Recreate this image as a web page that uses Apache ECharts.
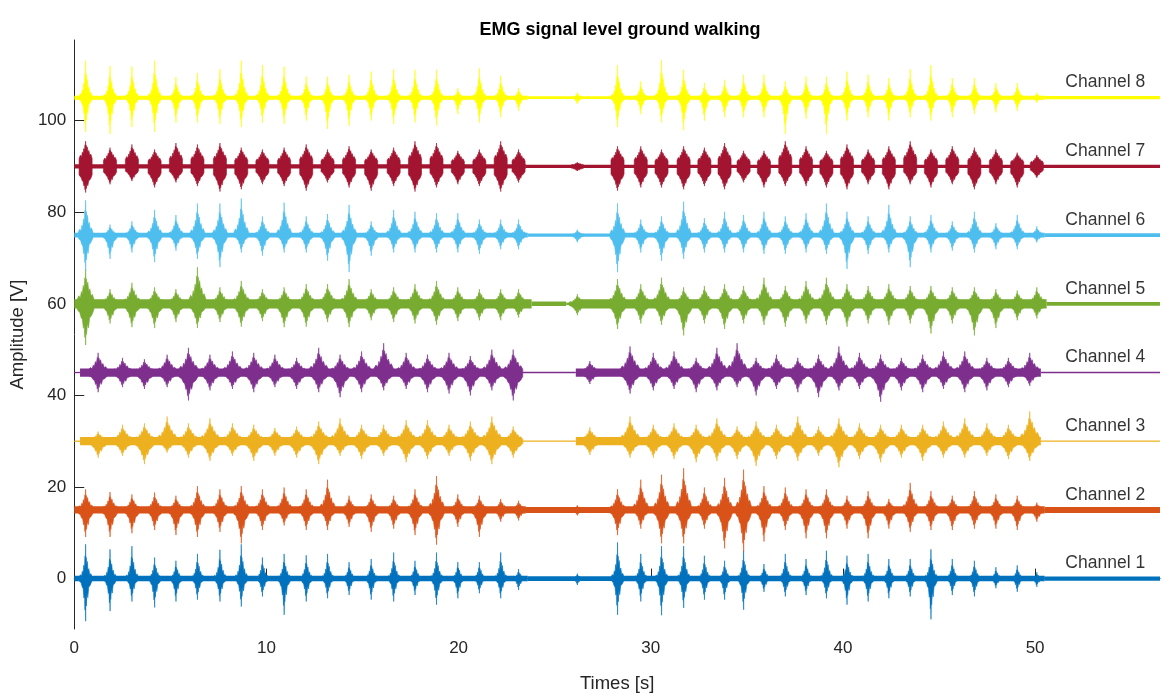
<!DOCTYPE html>
<html>
<head>
<meta charset="utf-8">
<title>EMG signal level ground walking</title>
<script src="https://cdn.jsdelivr.net/npm/echarts@6/dist/echarts.min.js"></script>
<style>
  html, body { margin: 0; padding: 0; background: #ffffff; }
  #chart { width: 1161px; height: 698px; }
</style>
</head>
<body>
<div id="chart"></div>
<script>
// Step (burst) centre times in seconds: first walk, short pause blip, second walk
const stepTimes = [
  0.59, 1.86, 3.00, 4.18, 5.29, 6.41, 7.58, 8.69, 9.79, 10.92, 12.07, 13.18, 14.30, 15.45, 16.62, 17.73, 18.85, 19.96, 21.08, 22.19, 23.12,
  26.18,
  28.27, 29.48, 30.56, 31.71, 32.79, 33.84, 34.83, 35.89, 37.00, 38.08, 39.14, 40.21, 41.31, 42.39, 43.50, 44.58, 45.69, 46.84, 47.96, 49.07, 50.09
];

const channelNames = ['Channel 1', 'Channel 2', 'Channel 3', 'Channel 4', 'Channel 5', 'Channel 6', 'Channel 7', 'Channel 8'];
// vertical offset of each trace [V]
const channelBase = [0, 15, 30, 45, 60, 75, 90, 105];
// delay of each channel's burst after the step time [s]
const burstLag = [0, 0, 0.65, 0.65, 0, 0, 0, 0];

// Burst peak amplitudes above (Up) and below (Down) the trace baseline [V], one per step
const ch1Up = [7.5, 6.4, 7.1, 4.6, 3.9, 5.4, 6.3, 7.5, 4.6, 5.4, 5.1, 5.4, 3.6, 4.3, 5.7, 3.9, 5.7, 3.6, 3.6, 5.7, 2.1,
  1.1,
  7.9, 5.4, 7.1, 7.1, 5.0, 3.9, 6.1, 3.2, 5.4, 4.3, 6.1, 5.0, 5.4, 4.3, 4.3, 6.4, 4.3, 3.9, 2.5, 2.9, 1.4];
const ch1Down = [9.3, 7.1, 5.0, 6.3, 5.0, 4.6, 5.0, 6.1, 3.9, 7.9, 5.0, 4.3, 3.6, 4.6, 5.0, 3.6, 5.7, 4.3, 3.2, 4.3, 2.5,
  1.4,
  7.9, 5.0, 8.0, 6.4, 4.6, 4.6, 6.8, 2.9, 3.9, 3.6, 4.3, 5.7, 5.0, 4.3, 3.9, 8.9, 3.6, 3.9, 2.1, 2.9, 1.8];

const ch2Up = [4.5, 3.9, 3.4, 3.8, 3.1, 5.2, 4.5, 5.2, 4.5, 4.9, 4.5, 6.6, 3.1, 3.4, 3.1, 4.5, 7.4, 3.4, 3.1, 2.4, 2.0,
  1.0,
  4.5, 6.6, 7.7, 9.1, 4.9, 7.0, 8.8, 5.2, 4.9, 4.5, 4.5, 3.1, 4.1, 2.4, 5.9, 4.1, 3.1, 4.1, 3.4, 3.1, 1.6];
const ch2Down = [5.9, 5.9, 5.1, 4.4, 5.5, 5.9, 4.8, 7.3, 4.4, 3.4, 4.4, 4.4, 3.7, 4.8, 4.1, 5.5, 7.6, 3.7, 5.9, 2.6, 2.3,
  1.2,
  5.5, 4.1, 7.3, 7.3, 4.1, 8.4, 9.1, 6.9, 4.4, 6.2, 6.2, 4.1, 6.2, 4.1, 4.8, 4.4, 4.4, 4.1, 4.1, 4.4, 2.6];

const ch3Up = [2.1, 3.6, 3.9, 5.4, 3.9, 5.0, 3.9, 3.6, 2.9, 3.2, 4.3, 5.0, 3.6, 3.6, 4.6, 4.6, 3.6, 4.3, 5.4, 3.2, 0,
  3.0,
  5.4, 3.6, 3.9, 3.6, 5.0, 3.2, 4.3, 3.6, 5.4, 3.2, 5.0, 3.9, 3.6, 3.6, 3.6, 4.3, 5.0, 3.9, 3.6, 6.5, 0];
const ch3Down = [3.6, 3.2, 5.0, 2.5, 3.6, 4.3, 3.2, 4.3, 3.2, 3.6, 5.0, 3.2, 3.9, 3.2, 4.6, 3.9, 3.2, 4.3, 5.0, 3.6, 0,
  3.0,
  3.6, 3.6, 3.9, 4.6, 4.3, 3.9, 5.4, 3.9, 4.3, 3.2, 5.7, 3.9, 4.6, 3.6, 4.3, 3.6, 3.6, 3.2, 3.9, 4.3, 0];

const ch4Up = [4.3, 3.2, 2.9, 3.9, 5.4, 3.9, 4.6, 4.3, 3.9, 3.2, 5.4, 3.9, 4.6, 6.4, 4.3, 3.9, 4.3, 3.6, 5.0, 5.0, 0,
  2.5,
  5.7, 4.3, 4.6, 3.2, 5.4, 6.4, 3.2, 3.9, 3.2, 3.9, 5.7, 4.3, 3.9, 3.2, 3.9, 4.6, 4.6, 3.2, 3.2, 4.3, 0];
const ch4Down = [4.3, 3.2, 3.6, 3.2, 6.1, 3.9, 3.6, 4.3, 3.2, 3.6, 4.3, 5.4, 4.3, 3.9, 3.6, 4.3, 4.6, 5.0, 3.9, 6.1, 0,
  2.5,
  4.6, 3.9, 3.6, 4.3, 3.9, 3.2, 5.0, 3.6, 4.3, 5.4, 3.9, 3.6, 6.4, 3.9, 4.3, 3.6, 4.3, 3.9, 3.2, 2.9, 0];

const ch5Up = [7.5, 3.2, 4.6, 3.6, 3.2, 8.0, 3.6, 5.0, 3.2, 3.6, 4.3, 4.3, 5.4, 3.2, 3.6, 4.3, 5.0, 3.6, 3.2, 3.2, 3.2,
  2.1,
  5.4, 4.3, 5.7, 3.6, 3.9, 4.3, 3.9, 5.7, 3.9, 5.0, 5.7, 4.3, 3.9, 4.3, 3.9, 3.9, 3.6, 3.6, 3.2, 2.9, 3.6];
const ch5Down = [9.0, 4.3, 5.1, 5.3, 4.0, 5.3, 4.0, 5.0, 3.8, 5.1, 5.0, 4.0, 5.1, 3.6, 4.0, 4.3, 4.6, 3.8, 3.6, 3.6, 3.0,
  2.5,
  5.5, 4.3, 4.6, 6.9, 4.3, 5.5, 4.3, 4.6, 5.0, 4.3, 4.6, 5.0, 4.3, 4.6, 4.3, 6.5, 4.3, 6.9, 5.3, 3.6, 3.2];

const ch6Up = [7.6, 2.3, 3.0, 5.5, 4.4, 6.9, 6.9, 8.0, 4.1, 7.1, 4.1, 4.6, 6.6, 3.0, 5.5, 5.1, 4.8, 4.8, 3.4, 3.4, 3.4,
  1.2,
  6.9, 3.4, 4.1, 7.3, 3.7, 5.1, 4.4, 5.1, 4.1, 4.8, 6.9, 5.1, 4.1, 6.6, 4.1, 4.4, 3.0, 5.1, 2.6, 4.4, 1.9];
const ch6Down = [7.7, 5.2, 3.8, 5.9, 3.4, 5.2, 7.0, 3.8, 4.5, 3.8, 3.8, 5.6, 8.1, 4.5, 3.8, 3.8, 3.8, 3.8, 4.1, 3.1, 3.1,
  1.6,
  8.1, 3.8, 5.6, 5.2, 3.8, 3.8, 3.8, 4.1, 4.1, 3.8, 4.1, 7.4, 4.1, 3.8, 7.0, 3.8, 3.4, 3.8, 3.1, 3.1, 1.6];

const ch7Up = [5.5, 4.1, 4.8, 3.7, 5.1, 4.8, 5.1, 4.1, 3.7, 4.1, 4.8, 3.7, 4.4, 3.7, 4.1, 5.5, 5.1, 3.4, 3.7, 5.5, 3.7,
  0.9,
  4.4, 4.4, 3.7, 4.4, 4.1, 5.1, 3.4, 3.4, 5.5, 4.4, 3.4, 4.8, 3.7, 4.4, 5.5, 3.7, 4.4, 4.1, 3.7, 3.0, 2.5];
const ch7Down = [5.7, 3.9, 3.2, 4.6, 3.5, 4.3, 5.5, 5.0, 3.9, 4.3, 5.3, 3.5, 4.6, 5.3, 4.3, 5.5, 4.6, 3.9, 4.3, 5.5, 3.5,
  1.0,
  5.3, 4.6, 4.6, 5.0, 4.3, 5.0, 3.5, 4.6, 4.3, 4.3, 4.6, 5.0, 3.9, 5.0, 3.9, 4.6, 3.9, 5.0, 3.9, 4.6, 2.5];

const ch8Up = [8.1, 6.9, 6.8, 8.1, 4.5, 5.4, 6.2, 8.1, 7.1, 6.8, 4.6, 4.6, 5.0, 5.7, 6.2, 6.1, 6.1, 2.1, 6.4, 4.8, 2.1,
  1.1,
  7.1, 3.6, 8.2, 6.1, 3.2, 3.9, 5.0, 5.0, 3.6, 4.6, 4.6, 5.7, 5.0, 4.3, 6.2, 7.1, 4.3, 4.3, 3.2, 3.2, 1.1];
const ch8Down = [7.5, 7.9, 6.4, 7.5, 5.4, 5.4, 5.7, 6.4, 5.4, 5.7, 5.0, 6.8, 6.1, 5.0, 5.7, 5.4, 6.1, 3.6, 5.4, 4.3, 2.9,
  1.4,
  6.4, 3.6, 5.4, 7.1, 5.0, 4.3, 4.3, 4.3, 7.9, 4.6, 7.9, 5.0, 4.3, 5.0, 4.3, 5.0, 4.3, 3.6, 3.2, 2.9, 1.1];

// Background activity between bursts: [start s, end s, half-amplitude V]
const ch1Noise = [[0, 23.6, 0.6], [23.6, 28.0, 0.5], [28.0, 50.5, 0.6], [50.5, 56.5, 0.45]];
const ch2Noise = [[0, 23.5, 0.8], [23.5, 28.0, 0.65], [28.0, 50.5, 0.8], [50.5, 56.5, 0.65]];
const ch3Noise = [[0, 0.3, 0.12], [0.3, 23.2, 0.9], [23.2, 26.1, 0.12], [26.1, 50.3, 0.9], [50.3, 56.5, 0.12]];
const ch4Noise = [[0, 0.3, 0.12], [0.3, 23.3, 0.9], [23.3, 26.1, 0.12], [26.1, 50.3, 0.9], [50.3, 56.5, 0.12]];
const ch5Noise = [[0, 23.8, 1.0], [23.8, 25.6, 0.5], [25.6, 26.1, 0.25], [26.1, 50.6, 1.0], [50.6, 56.5, 0.4]];
const ch6Noise = [[0, 23.6, 0.5], [23.6, 28.0, 0.35], [28.0, 50.5, 0.5], [50.5, 56.5, 0.4]];
const ch7Noise = [[0, 23.5, 0.45], [23.5, 56.5, 0.35]];
const ch8Noise = [[0, 23.6, 0.45], [23.6, 28.0, 0.3], [28.0, 50.5, 0.45], [50.5, 56.5, 0.35]];

const xTicks = [0, 10, 20, 30, 40, 50];
const yTicks = [0, 20, 40, 60, 80, 100];

const upAll = [ch1Up, ch2Up, ch3Up, ch4Up, ch5Up, ch6Up, ch7Up, ch8Up];
const downAll = [ch1Down, ch2Down, ch3Down, ch4Down, ch5Down, ch6Down, ch7Down, ch8Down];
const noiseAll = [ch1Noise, ch2Noise, ch3Noise, ch4Noise, ch5Noise, ch6Noise, ch7Noise, ch8Noise];

// ---- styling ----
const channelColors = ['#0072BD', '#D95319', '#EDB120', '#7E2F8E', '#77AC30', '#4DBEEE', '#A2142F', '#FFFF00'];
// half duration of a burst glyph [s] and its sharpness (>1 spiky, <1 blocky)
const burstShape = [
  { hw: 0.34, k: 1.35 }, { hw: 0.40, k: 1.0 }, { hw: 0.50, k: 0.85 }, { hw: 0.50, k: 0.85 },
  { hw: 0.44, k: 0.9 }, { hw: 0.38, k: 1.1 }, { hw: 0.34, k: 0.5 }, { hw: 0.34, k: 1.35 }
];
const FONT = '"Liberation Sans", Arial, Helvetica, sans-serif';
const INK = '#262626';

// jagged outline of one EMG burst, x in [-1,1] of half-width, y in [0,1] of amplitude
const UPPER = [[-1, 0.1], [-0.8, 0.2], [-0.62, 0.14], [-0.5, 0.32], [-0.4, 0.24], [-0.28, 0.5], [-0.18, 0.4],
  [-0.08, 0.74], [-0.03, 0.55], [0, 1], [0.04, 0.6], [0.09, 0.7], [0.17, 0.5], [0.26, 0.6], [0.37, 0.33],
  [0.5, 0.4], [0.64, 0.2], [0.8, 0.24], [1, 0.1]];
const LOWER = [[1, 0.1], [0.82, 0.2], [0.64, 0.27], [0.48, 0.3], [0.34, 0.55], [0.22, 0.44], [0.11, 0.72],
  [0.05, 0.55], [0.01, 1], [-0.04, 0.62], [-0.09, 0.8], [-0.16, 0.5], [-0.26, 0.56], [-0.38, 0.34],
  [-0.52, 0.3], [-0.7, 0.17], [-0.85, 0.15], [-1, 0.1]];

function burstRender(color, shape) {
  return function (params, api) {
    const t = api.value(0), base = api.value(1), up = api.value(2), dn = api.value(3);
    if (up <= 0 && dn <= 0) return null;
    const pts = [];
    UPPER.forEach(function (p) {
      pts.push(api.coord([t + p[0] * shape.hw, base + Math.pow(p[1], shape.k) * up]));
    });
    LOWER.forEach(function (p) {
      pts.push(api.coord([t + p[0] * shape.hw, base - Math.pow(p[1], shape.k) * dn]));
    });
    return {
      type: 'polygon',
      shape: { points: pts },
      style: { fill: color, stroke: color, lineWidth: 0.6 }
    };
  };
}

function bandRender(color) {
  return function (params, api) {
    const a = api.coord([api.value(0), api.value(2) + api.value(3)]);
    const b = api.coord([api.value(1), api.value(2) - api.value(3)]);
    const h = Math.max(1.3, b[1] - a[1]);
    return {
      type: 'rect',
      shape: { x: a[0], y: (a[1] + b[1]) / 2 - h / 2, width: b[0] - a[0], height: h },
      style: { fill: color }
    };
  };
}

const series = [];
channelNames.forEach(function (name, i) {
  const base = channelBase[i];
  series.push({
    name: name + ' activity',
    type: 'custom',
    renderItem: bandRender(channelColors[i]),
    encode: { x: [0, 1], y: 2 },
    data: noiseAll[i].map(function (s) { return [s[0], s[1], base, s[2]]; }),
    clip: true,
    silent: true,
    z: 2 + i
  });
  series.push({
    name: name,
    type: 'custom',
    renderItem: burstRender(channelColors[i], burstShape[i]),
    encode: { x: 0, y: 1 },
    data: stepTimes.map(function (t, j) { return [t + burstLag[i], base, upAll[i][j], downAll[i][j]]; }),
    clip: true,
    silent: true,
    z: 2 + i
  });
});

// channel captions at the right end of each trace
const LABEL_X = 53.65, LABEL_RAISE = 3.3;
series.push({
  type: 'scatter',
  symbolSize: 1,
  itemStyle: { color: 'rgba(0,0,0,0)' },
  silent: true,
  z: 20,
  data: channelNames.map(function (n, i) { return { name: n, value: [LABEL_X, channelBase[i] + LABEL_RAISE] }; }),
  label: { show: true, position: 'inside', formatter: '{b}', color: '#000000', fontSize: 17.5, fontFamily: FONT }
});

const chart = echarts.init(document.getElementById('chart'), null, { renderer: 'canvas' });
chart.setOption({
  animation: false,
  backgroundColor: '#ffffff',
  textStyle: { fontFamily: FONT },
  title: {
    text: 'EMG signal level ground walking',
    left: 615,
    textAlign: 'center',
    top: 16,
    textStyle: { fontSize: 18, fontWeight: 'bold', color: '#000000', fontFamily: FONT }
  },
  grid: { left: 70, right: 1, top: 40, bottom: 60, containLabel: false },
  xAxis: {
    type: 'value',
    min: 0,
    max: 56.5,
    name: 'Times [s]',
    nameLocation: 'middle',
    nameGap: 45,
    nameTextStyle: { fontSize: 18.5, color: INK, fontFamily: FONT },
    axisLine: { show: true, lineStyle: { color: INK, width: 1 } },
    axisTick: { show: true, inside: true, length: 10, customValues: xTicks, lineStyle: { color: INK } },
    axisLabel: { customValues: xTicks, margin: 11, fontSize: 17, color: INK, fontFamily: FONT },
    splitLine: { show: false }
  },
  yAxis: {
    type: 'value',
    min: -11,
    max: 117.6,
    name: 'Amplitude [V]',
    nameLocation: 'middle',
    nameGap: 47,
    nameTextStyle: { fontSize: 18.5, color: INK, fontFamily: FONT },
    axisLine: { show: true, lineStyle: { color: INK, width: 1 } },
    axisTick: { show: true, inside: true, length: 10, customValues: yTicks, lineStyle: { color: INK } },
    axisLabel: { customValues: yTicks, margin: 8, fontSize: 17, color: INK, fontFamily: FONT },
    splitLine: { show: false }
  },
  series: series
});
</script>
</body>
</html>
